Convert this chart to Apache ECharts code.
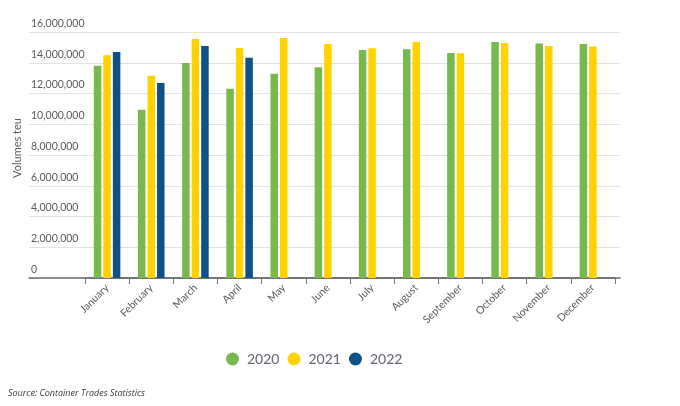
<!DOCTYPE html>
<html>
<head>
<meta charset="utf-8">
<script src="https://cdn.jsdelivr.net/npm/echarts@6/dist/echarts.min.js"></script>
<style>
html,body{margin:0;padding:0;background:#fff;}
#chart{width:680px;height:406px;}
</style>
</head>
<body>
<div id="chart"></div>
<script>
const months = ['January','February','March','April','May','June','July','August','September','October','November','December'];
const v2020 = [13810000,10950000,13980000,12310000,13290000,13700000,14830000,14870000,14630000,15350000,15260000,15220000];
const v2021 = [14480000,13160000,15540000,14960000,15610000,15220000,14940000,15350000,14620000,15280000,15090000,15060000];
const v2022 = [14700000,12680000,15090000,14330000,null,null,null,null,null,null,null,null];
const yTicks = [0,2000000,4000000,6000000,8000000,10000000,12000000,14000000,16000000];

const colors = ['#78b84c','#ffd200','#0e5286'];
const textGray = '#5b5b5b';
const fontFam = 'Lato, "Open Sans", sans-serif';

const chart = echarts.init(document.getElementById('chart'), null, {renderer:'canvas'});
const fmt = v => String(v).replace(/\B(?=(\d{3})+(?!\d))/g, ',');

chart.setOption({
  animation: false,
  color: colors,
  textStyle: {fontFamily: fontFam},
  grid: [
    {left: 29, right: 60, top: 32, bottom: 128},
    {left: 85, right: 65, top: 32, bottom: 128}
  ],
  xAxis: [
    {gridIndex: 0, type: 'value', min: 0, max: 1,
     axisLine: {show: true, onZero: false, lineStyle: {color: '#6e6e6e', width: 1.5}},
     axisTick: {show: false}, axisLabel: {show: false}, splitLine: {show: false}},
    {gridIndex: 1, type: 'category', data: months,
     axisLine: {show: true, lineStyle: {color: '#6e6e6e', width: 1.5}},
     axisTick: {show: true, length: 6, lineStyle: {color: '#7a7a7a'}},
     axisLabel: {rotate: 45, fontSize: 10.5, color: textGray, margin: 8, fontFamily: fontFam}}
  ],
  yAxis: [
    {gridIndex: 0, type: 'value', min: yTicks[0], max: yTicks[yTicks.length-1], interval: yTicks[1]-yTicks[0],
     axisLine: {show: false}, axisTick: {show: false},
     splitLine: {show: true, lineStyle: {color: '#e2e2e2', width: 1}},
     axisLabel: {inside: true, margin: 2, verticalAlign: 'bottom', align: 'left', padding: [0,0,3,0],
                 fontSize: 10.5, color: textGray, fontFamily: fontFam, formatter: v => fmt(v)}},
    {gridIndex: 1, type: 'value', min: yTicks[0], max: yTicks[yTicks.length-1], show: false, splitLine: {show: false}}
  ],
  legend: {
    data: ['2020','2021','2022'],
    left: 221, top: 347, icon: 'circle', itemWidth: 13, itemHeight: 13, itemGap: 8,
    textStyle: {fontSize: 14, color: '#5f6470', fontFamily: fontFam, padding: [0,0,0,3]}
  },
  series: [
    {name: '2020', type: 'bar', xAxisIndex: 1, yAxisIndex: 1, data: v2020, barWidth: 7.5, barGap: '27%'},
    {name: '2021', type: 'bar', xAxisIndex: 1, yAxisIndex: 1, data: v2021, barWidth: 7.5, barGap: '27%'},
    {name: '2022', type: 'bar', xAxisIndex: 1, yAxisIndex: 1, data: v2022, barWidth: 7.5, barGap: '27%'}
  ],
  graphic: [
    {type: 'text', x: 17, y: 148, rotation: Math.PI/2,
     style: {text: 'Volumes teu', fontSize: 11, fill: textGray, fontFamily: fontFam, align: 'center', verticalAlign: 'middle'}},
    {type: 'text', left: 8, top: 389,
     style: {text: 'Source: Container Trades Statistics', fontSize: 9, fontStyle: 'italic', fill: '#3a3a3a', fontFamily: '"Open Sans", sans-serif'}}
  ]
});
</script>
</body>
</html>
